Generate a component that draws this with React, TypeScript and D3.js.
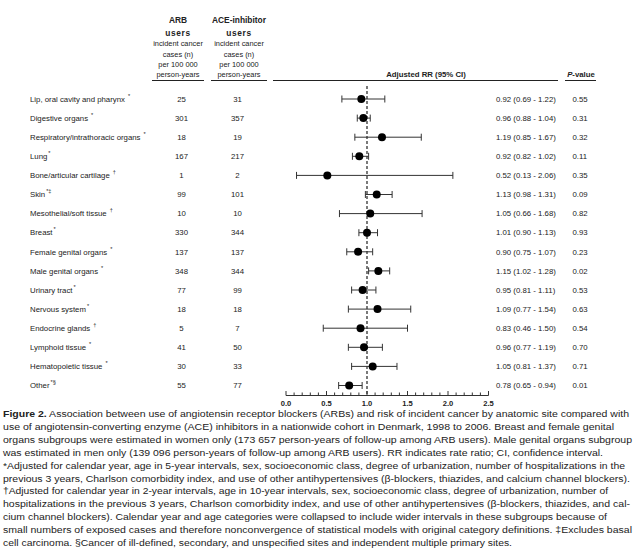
import React from "react";
import * as d3 from "d3";

const sites = ["Lip, oral cavity and pharynx", "Digestive organs", "Respiratory/intrathoracic organs", "Lung", "Bone/articular cartilage", "Skin", "Mesothelial/soft tissue", "Breast", "Female genital organs", "Male genital organs", "Urinary tract", "Nervous system", "Endocrine glands", "Lymphoid tissue", "Hematopoietic tissue", "Other"];
const marks = ["*", "*", "*", "*", "†", "*‡", "†", "*", "*", "*", "*", "*", "†", "*", "*", "*§"];
const arbCases = [25, 301, 18, 167, 1, 99, 10, 330, 137, 348, 77, 18, 5, 41, 30, 55];
const aceCases = [31, 357, 19, 217, 2, 101, 10, 344, 137, 344, 99, 18, 7, 50, 33, 77];
const rr = [0.92, 0.96, 1.19, 0.92, 0.52, 1.13, 1.05, 1.01, 0.90, 1.15, 0.95, 1.09, 0.83, 0.96, 1.05, 0.78];
const lo = [0.69, 0.88, 0.85, 0.82, 0.13, 0.98, 0.66, 0.90, 0.75, 1.02, 0.81, 0.77, 0.46, 0.77, 0.81, 0.65];
const hi = [1.22, 1.04, 1.67, 1.02, 2.06, 1.31, 1.68, 1.13, 1.07, 1.28, 1.11, 1.54, 1.50, 1.19, 1.37, 0.94];
// dot positions as drawn in the figure
const dotRR = [0.93, 0.955, 1.185, 0.905, 0.51, 1.12, 1.04, 1.0, 0.89, 1.14, 0.946, 1.13, 0.92, 0.963, 1.07, 0.78];
const pValues = ["0.55", "0.31", "0.32", "0.11", "0.35", "0.09", "0.82", "0.93", "0.23", "0.02", "0.53", "0.63", "0.54", "0.70", "0.71", "0.01"];
const axisTicks = [0, 0.5, 1.0, 1.5, 2.0, 2.5];
const tightMark = ["Lung", "Breast", "Skin", "Urinary tract", "Nervous system", "Other"];

const captionLines: { text: string; bold?: string; w?: number }[] = [
  { bold: "Figure 2.", text: " Association between use of angiotensin receptor blockers (ARBs) and risk of incident cancer by anatomic site compared with", w: 626 },
  { text: "use of angiotensin-converting enzyme (ACE) inhibitors in a nationwide cohort in Denmark, 1998 to 2006. Breast and female genital", w: 611 },
  { text: "organs subgroups were estimated in women only (173 657 person-years of follow-up among ARB users). Male genital organs subgroup", w: 629 },
  { text: "was estimated in men only (139 096 person-years of follow-up among ARB users). RR indicates rate ratio; CI, confidence interval.", w: 600 },
  { text: "*Adjusted for calendar year, age in 5-year intervals, sex, socioeconomic class, degree of urbanization, number of hospitalizations in the", w: 622 },
  { text: "previous 3 years, Charlson comorbidity index, and use of other antihypertensives (β-blockers, thiazides, and calcium channel blockers).", w: 627 },
  { text: "†Adjusted for calendar year in 2-year intervals, age in 10-year intervals, sex, socioeconomic class, degree of urbanization, number of", w: 605 },
  { text: "hospitalizations in the previous 3 years, Charlson comorbidity index, and use of other antihypertensives (β-blockers, thiazides, and cal-", w: 627 },
  { text: "cium channel blockers). Calendar year and age categories were collapsed to include wider intervals in these subgroups because of", w: 604 },
  { text: "small numbers of exposed cases and therefore nonconvergence of statistical models with original category definitions. ‡Excludes basal", w: 629 },
  { text: "cell carcinoma. §Cancer of ill-defined, secondary, and unspecified sites and independent multiple primary sites.", w: 509 },
];

export default function App() {
  const W = 640, H = 548;
  const x = d3.scaleLinear().domain([0, 2.5]).range([286, 488.5]);
  const y = d3.scaleLinear().domain([0, sites.length - 1]).range([99, 385.5]);
  const axisY = 395;
  const font = "'Liberation Sans', Arial, Helvetica, sans-serif";
  const minor = d3.range(0, 26).map((i) => i / 10);
  const fmt = d3.format(".2f");

  return (
    <svg width={W} height={H} style={{ position: "absolute", left: 0, top: 0, background: "#fff" }} fontFamily={font}>
      {/* header */}
      <g fill="#222" textAnchor="middle">
        <text x={178} y={23} fontSize={8.4} fontWeight="bold">ARB</text>
        <text x={178} y={35.5} fontSize={8.4} fontWeight="bold" letterSpacing={0.6}>users</text>
        <text x={178} y={46} fontSize={7.4}>incident cancer</text>
        <text x={178} y={56.5} fontSize={7.4}>cases (n)</text>
        <text x={178} y={67} fontSize={7.4}>per 100 000</text>
        <text x={178} y={77} fontSize={7.4}>person-years</text>
        <text x={239} y={23} fontSize={8.4} fontWeight="bold">ACE-inhibitor</text>
        <text x={239} y={35.5} fontSize={8.4} fontWeight="bold" letterSpacing={0.6}>users</text>
        <text x={239} y={46} fontSize={7.4}>incident cancer</text>
        <text x={239} y={56.5} fontSize={7.4}>cases (n)</text>
        <text x={239} y={67} fontSize={7.4}>per 100 000</text>
        <text x={239} y={77} fontSize={7.4}>person-years</text>
        <text x={426} y={77} fontSize={7.8} fontWeight="bold">Adjusted RR (95% CI)</text>
        <text x={581} y={77} fontSize={7.8} fontWeight="bold"><tspan fontStyle="italic">P</tspan>-value</text>
      </g>
      <g stroke="#222" strokeWidth={1}>
        <line x1={152} x2={204} y1={80.5} y2={80.5} />
        <line x1={211} x2={267} y1={80.5} y2={80.5} />
        <line x1={273} x2={558} y1={80.5} y2={80.5} />
        <line x1={565} x2={596} y1={80.5} y2={80.5} />
      </g>

      {/* rows */}
      {sites.map((s, i) => (
        <g key={s} fontSize={7.8} fill="#222">
          <text x={30} y={y(i) + 2.7}>
            {s}
            <tspan fontSize={5.6} dx={tightMark.includes(s) ? 1 : 3} dy={-4}>{marks[i]}</tspan>
          </text>
          <text x={181.5} y={y(i) + 2.7} textAnchor="middle">{arbCases[i]}</text>
          <text x={237.5} y={y(i) + 2.7} textAnchor="middle">{aceCases[i]}</text>
          <text x={496} y={y(i) + 2.7}>{`${fmt(rr[i])} (${fmt(lo[i])} - ${fmt(hi[i])})`}</text>
          <text x={572.5} y={y(i) + 2.7}>{pValues[i]}</text>
        </g>
      ))}

      {/* reference line */}
      <line x1={x(1)} x2={x(1)} y1={86} y2={axisY} stroke="#222" strokeWidth={1.2} strokeDasharray="3,2" />

      {/* CIs */}
      {sites.map((s, i) => (
        <g key={"ci" + s} stroke="#333" strokeWidth={1}>
          <line x1={x(lo[i])} x2={x(hi[i])} y1={y(i)} y2={y(i)} />
          <line x1={x(lo[i])} x2={x(lo[i])} y1={y(i) - 3.5} y2={y(i) + 3.5} />
          <line x1={x(hi[i])} x2={x(hi[i])} y1={y(i) - 3.5} y2={y(i) + 3.5} />
          <circle cx={x(dotRR[i])} cy={y(i)} r={4} fill="#000" stroke="none" />
        </g>
      ))}

      {/* axis */}
      <g stroke="#333" strokeWidth={1}>
        <line x1={x(0)} x2={x(2.5)} y1={axisY + 0.5} y2={axisY + 0.5} />
        {minor.map((t) => {
          const major = Math.abs(t * 2 - Math.round(t * 2)) < 1e-9;
          return <line key={t} x1={x(t)} x2={x(t)} y1={axisY + 0.5} y2={axisY + 0.5 - (major ? 4.5 : 3)} />;
        })}
      </g>
      <g fontSize={7.6} fontWeight="bold" fill="#222" textAnchor="middle">
        {axisTicks.map((t) => (
          <text key={t} x={x(t)} y={406}>{t.toFixed(1)}</text>
        ))}
      </g>

      {/* caption */}
      <g fontSize={9.2} fill="#222">
        {captionLines.map((l, i) => (
          <text key={i} x={3} y={417 + i * 12.9} textLength={l.w} lengthAdjust="spacingAndGlyphs">
            {l.bold ? <tspan fontWeight="bold">{l.bold}</tspan> : null}
            {l.text}
          </text>
        ))}
      </g>
    </svg>
  );
}
